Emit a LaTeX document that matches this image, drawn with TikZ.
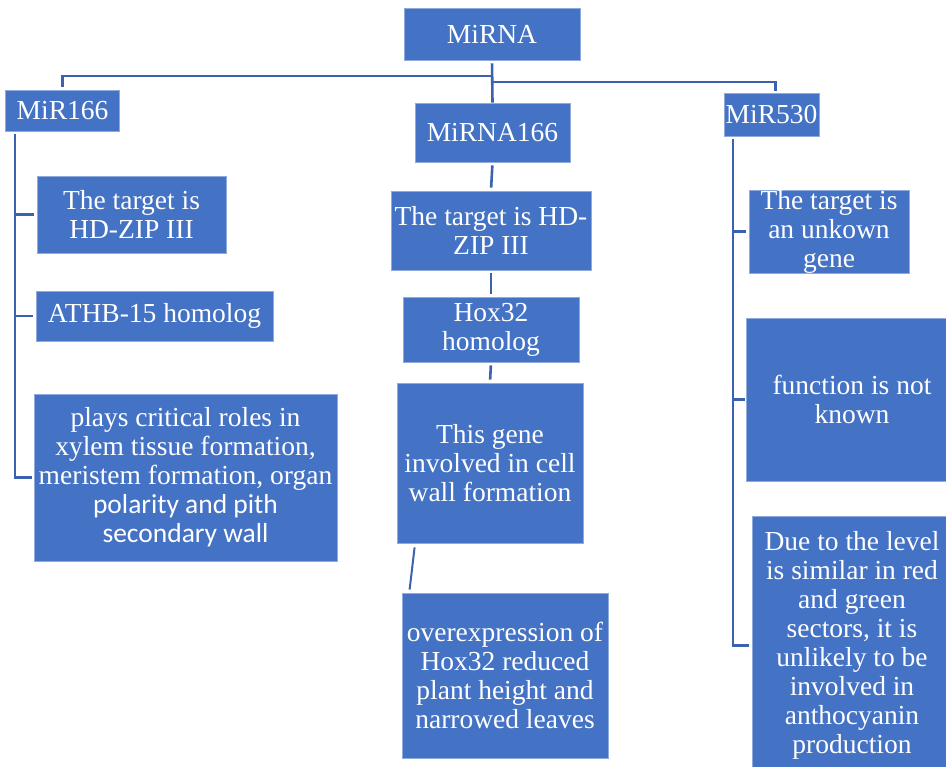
\documentclass[tikz,border=0pt]{standalone}
\usepackage{fontspec}
\setmainfont{Liberation Serif}
\newfontfamily\tnr{Liberation Serif}
\newfontfamily\calib{Carlito}
\definecolor{boxfill}{HTML}{4472C4}
\definecolor{boxedge}{HTML}{8FAADC}
\definecolor{connc}{HTML}{3A62AE}
\begin{document}
\begin{tikzpicture}[x=1pt,y=1pt,
  box/.style={rectangle, fill=boxfill, draw=boxedge, line width=0.8pt, text=white,
    align=center, inner sep=0pt, font=\tnr\fontsize{27.5}{29}\selectfont},
  link/.style={draw=connc, line width=2.6pt}]
\useasboundingbox (0,0) rectangle (946,-767);
% top level
\node[box, minimum width=176, minimum height=52] (root) at (492,-34) {MiRNA};
\node[box, minimum width=114, minimum height=41] (mir166) at (62.5,-110.5) {MiR166};
\node[box, minimum width=155, minimum height=59] (m166b) at (492.5,-132.5) {MiRNA166};
\node[box, minimum width=95, minimum height=43] (mir530) at (771.5,-114.5) {MiR530};
% left column
\node[box, minimum width=189, minimum height=77] (l1) at (131.5,-214.5) {The target is\\HD-ZIP III};
\node[box, minimum width=237, minimum height=50] (l2) at (154.5,-316) {ATHB-15 homolog};
\node[box, minimum width=303, minimum height=167] (l3) at (185.5,-477.5)
  {plays critical roles in\\xylem tissue formation,\\meristem formation, organ\\{\calib polarity and pith}\\{\calib secondary wall}};
% middle column
\node[box, minimum width=200, minimum height=79] (m1) at (491,-230.5) {The target is HD-\\ZIP III};
\node[box, minimum width=176, minimum height=65] (m2) at (491,-329.5) {Hox32\\homolog};
\node[box, minimum width=186, minimum height=160] (m3) at (490,-463) {This gene\\involved in cell\\wall formation};
\node[box, minimum width=206, minimum height=165] (m4) at (505,-675.5) {overexpression of\\Hox32 reduced\\plant height and\\narrowed leaves};
% right column
\node[box, minimum width=160, minimum height=81] (r1) at (829,-231.5) {The target is\\an unkown\\gene};
\node[box, minimum width=212, minimum height=163] (r2) at (852,-399.5) {function is not\\known};
\node[box, minimum width=200, minimum height=259] (r3) at (852,-645.5)
  {Due to the level\\is similar in red\\and green\\sectors, it is\\unlikely to be\\involved in\\anthocyanin\\production};
% connectors from root
\coordinate (jl) at (492,-76);
\coordinate (jr) at (492,-82);
\draw[link, shorten <=3] (root.south) -- (m166b.north);
\draw[link, shorten >=3] (jl) -| (mir166.north);
\draw[link, shorten >=2] (jr) -| ([xshift=4]mir530.north);
% left column connectors
\coordinate (lv) at (15,-134);
\draw[link, shorten >=3] (lv) |- (l1.west);
\draw[link, shorten >=3] (lv) |- (l2.west);
\draw[link, shorten >=2] (lv) |- (l3.west);
% middle column connectors
\draw[link, shorten <=3, shorten >=3] (m166b.south) -- (m1.north);
\draw[link, shorten <=3, shorten >=3] (m1.south) -- (m2.north);
\draw[link, shorten <=3, shorten >=3] (m2.south) -- (m3.north);
\draw[link, line width=2pt] ([xshift=18,yshift=-4]m3.south west) -- ([xshift=8,yshift=3]m4.north west);
% right column connectors
\coordinate (rv) at (733,-139);
\draw[link, shorten >=3] (rv) |- (r1.west);
\draw[link, shorten >=1] (rv) |- (r2.west);
\draw[link, shorten >=3] (rv) |- (r3.west);
\end{tikzpicture}
\end{document}
